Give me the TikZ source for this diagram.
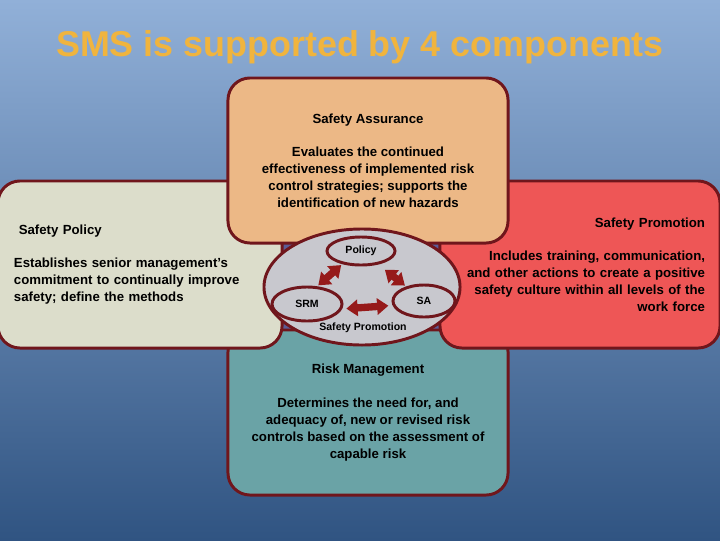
\documentclass[tikz,border=0pt]{standalone}
\usepackage{fontspec}
\setmainfont{Liberation Sans}
\usepackage{tikz}
\usetikzlibrary{shapes.geometric}
\usetikzlibrary{arrows.meta}

\definecolor{bgtop}{RGB}{145,176,216}
\definecolor{bgmid}{RGB}{76,116,172}
\definecolor{bgbot}{RGB}{48,84,130}
\definecolor{headline}{RGB}{240,180,62}
\definecolor{rimred}{RGB}{112,22,28}
\definecolor{linkred}{RGB}{150,26,26}
\definecolor{assurecol}{RGB}{236,184,134}
\definecolor{policycol}{RGB}{220,221,203}
\definecolor{promocol}{RGB}{238,86,86}
\definecolor{riskcol}{RGB}{106,163,166}
\definecolor{corecol}{RGB}{92,92,150}
\definecolor{ringcol}{RGB}{200,200,206}

\begin{document}
\begin{tikzpicture}[x=0.025cm,y=-0.025cm,
    card/.style={draw=rimred,line width=2.1pt,rounded corners=0.55cm,
      minimum width=7cm,minimum height=4.125cm,
      font=\fontsize{9.4}{12}\selectfont\bfseries},
    ring/.style={ellipse,draw=rimred,line width=2.1pt,fill=ringcol,inner sep=0pt,
      font=\fontsize{7.5}{9}\selectfont\bfseries},
    link/.style={draw=linkred,line width=5.2pt,
      {Triangle[width=11.5pt,length=8pt]}-{Triangle[width=11.5pt,length=8pt]}}]
        \useasboundingbox (0,0) rectangle (720,540);
        \shade[top color=bgtop,middle color=bgmid,bottom color=bgbot] (0,0) rectangle (720,540);
        \node (title) at (360,47) {\fontsize{25.5}{30}\selectfont\bfseries\color{headline}SMS is supported by 4 components};

        \node[draw=rimred,line width=2.1pt,fill=corecol,minimum width=4cm,minimum height=2.25cm] (core) at (360,285) {};

        \node[card,fill=riskcol,align=center] (risk) at (368,412.5)
          {Risk Management\\[12pt]Determines the need for, and\\adequacy of, new or revised risk\\controls based on the assessment of\\capable risk};
        \node[card,fill=policycol,minimum width=7.1cm,minimum height=4.175cm,text width=6.3cm,align=left] (policy) at (140,264.5)
          {\hspace*{0.12cm}Safety Policy\\[12pt]Establishes senior management’s\\commitment to continually improve\\safety; define the methods};
        \node[card,fill=promocol,text width=6.25cm,minimum height=4.175cm,align=right] (promotion) at (580,264.5)
          {Safety Promotion\\[12pt]Includes training, communication,\\and other actions to create a positive\\safety culture within all levels of the\\work force};
        \node[card,fill=assurecol,align=center] (assurance) at (368,160.5)
          {Safety Assurance\\[12pt]Evaluates the continued\\effectiveness of implemented risk\\control strategies; supports the\\identification of new hazards};

        \node[ring,minimum width=4.9cm,minimum height=2.9cm] (cycle) at (362,287) {};
        \node[ring,minimum width=1.7cm,minimum height=0.7cm] (pol) at (361,251) {Policy};
        \node[ring,minimum width=1.75cm,minimum height=0.85cm] (srm) at (307,304) {SRM};
        \node[ring,minimum width=1.55cm,minimum height=0.8cm] (sa) at (424,301) {SA};
        \node[font=\fontsize{7.5}{9}\selectfont\bfseries] (promo) at (363,328) {Safety Promotion};

        \draw[link,shorten <=1pt,shorten >=1pt] (srm.60) -- (pol.215);
        \draw[link,shorten <=6pt,shorten >=1pt] (pol.-38) -- (sa.141);
        \draw[link,shorten <=3pt,shorten >=3pt] (srm.-8) -- (sa.188);
      \end{tikzpicture}
\end{document}
